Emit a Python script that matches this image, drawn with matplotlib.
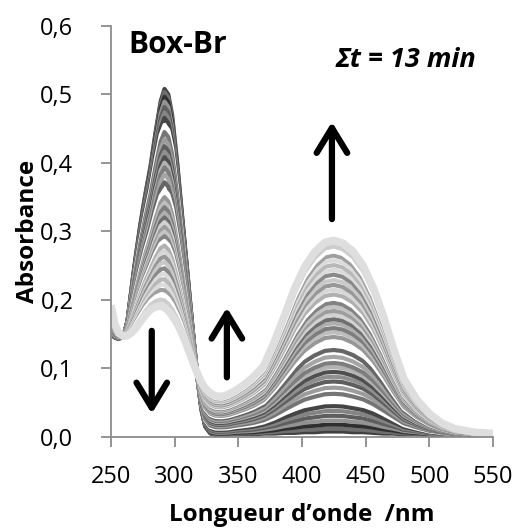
import numpy as np
import matplotlib
matplotlib.use('Agg')
import matplotlib.pyplot as plt
from matplotlib.patches import FancyArrowPatch

plt.rcParams['font.family'] = ['Open Sans', 'DejaVu Sans']

# wavelength grid (nm)
wl = [250, 253, 256, 260, 263, 266, 269, 273, 277, 281, 285, 289, 292, 295, 298,
      302, 305, 309, 312, 315, 318, 321, 324, 328, 332, 337, 342, 348, 355, 362,
      370, 378, 386, 394, 402, 410, 418, 425, 432, 440, 448, 456, 464, 472, 480,
      490, 500, 510, 520, 535, 550]

# first spectrum (t = 0)
abs_start = [0.150, 0.145, 0.143, 0.148, 0.170, 0.215, 0.258, 0.310, 0.355, 0.395,
             0.445, 0.490, 0.508, 0.500, 0.470, 0.400, 0.340, 0.260, 0.200, 0.140,
             0.085, 0.040, 0.015, 0.005, 0.003, 0.003, 0.003, 0.004, 0.004, 0.004,
             0.005, 0.005, 0.006, 0.006, 0.007, 0.007, 0.008, 0.008, 0.008, 0.007,
             0.007, 0.006, 0.005, 0.005, 0.004, 0.004, 0.003, 0.003, 0.002, 0.002,
             0.002]

# last spectrum (t = 13 min)
abs_end = [0.192, 0.165, 0.152, 0.147, 0.148, 0.152, 0.158, 0.168, 0.178, 0.186,
           0.190, 0.191, 0.189, 0.184, 0.177, 0.165, 0.154, 0.136, 0.121, 0.106,
           0.092, 0.080, 0.071, 0.064, 0.060, 0.059, 0.062, 0.068, 0.077, 0.088,
           0.104, 0.138, 0.176, 0.216, 0.248, 0.270, 0.284, 0.287, 0.283, 0.271,
           0.250, 0.218, 0.176, 0.128, 0.085, 0.055, 0.034, 0.020, 0.012, 0.007,
           0.005]

# absorbance at 425 nm for each recorded spectrum
peak425 = [0.008, 0.012, 0.018, 0.024, 0.031, 0.038, 0.045, 0.054, 0.063, 0.072,
           0.081, 0.088, 0.095, 0.102, 0.108, 0.117, 0.127, 0.137, 0.146, 0.153,
           0.159, 0.166, 0.172, 0.178, 0.184, 0.190, 0.196, 0.202, 0.208, 0.215,
           0.222, 0.229, 0.237, 0.244, 0.251, 0.258, 0.265, 0.271, 0.278, 0.284,
           0.287]

x = np.array(wl)
a0 = np.array(abs_start)
a1 = np.array(abs_end)
i425 = wl.index(425)
frac = (np.array(peak425) - a0[i425]) / (a1[i425] - a0[i425])

fig = plt.figure(figsize=(5.17, 5.30), dpi=100)
ax = fig.add_axes([0.2147, 0.1755, 0.7389, 0.7755])

shade = [0.0, 0.18, -0.08, 0.30, 0.08, 0.22, -0.04, 1.0, 0.12, 0.26]
n = len(frac)
for i, f in enumerate(frac):
    y = a0 + f * (a1 - a0)
    if i == n - 1:
        col, lw = '#dedede', 5.5
    else:
        s = shade[i % len(shade)]
        g = 1.0 if s >= 1.0 else min(0.86, 0.25 + 0.45 * f + s)
        col, lw = (g, g, g), 3.0
    ax.plot(x, y, color=col, lw=lw, solid_capstyle='butt', zorder=2)

ax.set_xlim(250, 550)
ax.set_ylim(0, 0.6)
ax.set_xticks([250, 300, 350, 400, 450, 500, 550])
ax.set_yticks([0.0, 0.1, 0.2, 0.3, 0.4, 0.5, 0.6])
ax.set_yticklabels(['0,0', '0,1', '0,2', '0,3', '0,4', '0,5', '0,6'])
for side in ['top', 'right']:
    ax.spines[side].set_visible(False)
for side in ['left', 'bottom']:
    ax.spines[side].set_color('#8c8c8c')
    ax.spines[side].set_linewidth(1.3)
ax.tick_params(direction='out', length=7, width=1.3, color='#8c8c8c',
               labelsize=17)
ax.tick_params(axis='x', pad=13)
ax.tick_params(axis='y', pad=20)
ax.set_xlabel('Longueur d\u2019onde  /nm', fontsize=17.5, fontweight='bold', labelpad=10)
ax.set_ylabel('Absorbance', fontsize=17.5, fontweight='bold', labelpad=0)

ax.text(302, 0.572, 'Box-Br', fontsize=21.5, fontweight='bold',
        ha='center', va='center')
ax.text(481.5, 0.55, '\u03a3t = 13 min', fontsize=19.5, fontweight='bold',
        fontstyle='italic', ha='center', va='center')

arrows = [((282, 0.159), (282, 0.030)),
          ((341, 0.083), (341, 0.193)),
          ((423.5, 0.314), (423.5, 0.464))]
for p0, p1 in arrows:
    ax.add_patch(FancyArrowPatch(p0, p1, arrowstyle='->,head_length=0.9,head_width=0.55',
                                 mutation_scale=20, lw=4.5, color='black',
                                 capstyle='round', joinstyle='round', zorder=5))

fig.savefig('out.png', dpi=100)
